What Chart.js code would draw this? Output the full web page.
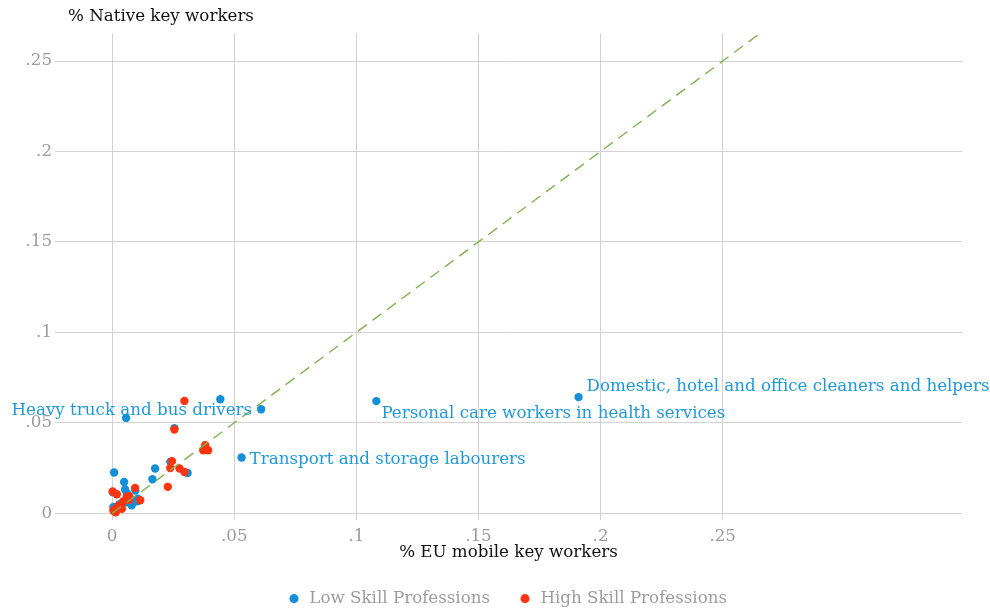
<!DOCTYPE html>
<html>
<head>
<meta charset="utf-8">
<script src="https://cdn.jsdelivr.net/npm/chart.js@4"></script>
<style>
html,body{margin:0;padding:0;background:#fff;}
canvas{display:block;}
</style>
</head>
<body>
<canvas id="c" width="990" height="612"></canvas>
<script>
// ---- data ----
const seriesNames = ['Low Skill Professions', 'High Skill Professions'];
const lowSkillX = [0.0443, 0.0610, 0.0057, 0.0530, 0.1082, 0.1910, 0.0255, 0.0238, 0.0176, 0.0165, 0.0309, 0.0008, 0.0049, 0.0053, 0.0003, 0.0080, 0.0080, 0.0005, 0.0010, 0.0030, 0.0015, 0.0060, 0.0105, 0.0061, 0.0095, 0.0102];
const lowSkillY = [0.0630, 0.0575, 0.0527, 0.0308, 0.0620, 0.0642, 0.0470, 0.0284, 0.0247, 0.0188, 0.0223, 0.0225, 0.0173, 0.0131, 0.0116, 0.0072, 0.0044, 0.0035, 0.0010, 0.0050, 0.0025, 0.0060, 0.0080, 0.0110, 0.0125, 0.0066];
const highSkillX = [0.0296, 0.0255, 0.0373, 0.0381, 0.0393, 0.0245, 0.0238, 0.0276, 0.0296, 0.0228, 0.0094, 0.0019, 0.0115, 0.0060, 0.0025, 0.0010, 0.0015, 0.0030, 0.0005, 0.0040, 0.0070, 0.0045, 0.0002, 0.0070];
const highSkillY = [0.0621, 0.0463, 0.0348, 0.0376, 0.0348, 0.0288, 0.0250, 0.0247, 0.0228, 0.0146, 0.0140, 0.0105, 0.0072, 0.0092, 0.0040, 0.0020, 0.0005, 0.0030, 0.0015, 0.0025, 0.0075, 0.0065, 0.0120, 0.0094];
const diagonalX = [0, 0.2655];
const xTickValues = [0, 0.05, 0.1, 0.15, 0.2, 0.25];
const xTickLabels = ['0', '.05', '.1', '.15', '.2', '.25'];
const yTickValues = [0, 0.05, 0.1, 0.15, 0.2, 0.25];
const yTickLabels = ['0', '.05', '.1', '.15', '.2', '.25'];
const labelTexts = ['Heavy truck and bus drivers', 'Transport and storage labourers', 'Personal care workers in health services', 'Domestic, hotel and office cleaners and helpers'];
const labelPointIndex = [1, 3, 4, 5]; // indices into low skill series
const xTitle = '% EU mobile key workers';
const yTitle = '% Native key workers';

// ---- style ----
const FONT = "'DejaVu Serif', serif";
const FS = 16.7;
const BLUE = '#1590d8';
const BLUE_TEXT = '#2298d8';
const RED = '#ff3410';
const GREEN = '#7cb450';
const GRID = '#d2d2d2';
const TICK = '#9c9c9c';
// clock positions of labels (Stata-style)
const labelPlacement = [
  {align: 'right', dx: -9, dy: 1},
  {align: 'left', dx: 8, dy: 2},
  {align: 'left', dx: 5, dy: 13},
  {align: 'left', dx: 8, dy: -10}
];

const toPts = (xs, ys) => xs.map((x, i) => ({x: x, y: ys[i]}));

const labelPlugin = {
  id: 'pointLabels',
  afterLayout(chart) {
    if (chart.legend) { chart.legend.left += 26; chart.legend.right += 26; }
  },
  afterDatasetsDraw(chart) {
    const ctx = chart.ctx;
    const xs = chart.scales.x, ys = chart.scales.y;
    ctx.save();
    ctx.font = FS + 'px ' + FONT;
    ctx.fillStyle = BLUE_TEXT;
    ctx.textBaseline = 'middle';
    labelTexts.forEach((t, k) => {
      const i = labelPointIndex[k];
      const px = xs.getPixelForValue(lowSkillX[i]);
      const py = ys.getPixelForValue(lowSkillY[i]);
      const p = labelPlacement[k];
      ctx.textAlign = p.align;
      ctx.fillText(t, px + p.dx, py + p.dy);
    });
    // y axis title at top-left
    ctx.fillStyle = '#111';
    ctx.textAlign = 'left';
    ctx.textBaseline = 'middle';
    ctx.fillText(yTitle, chart.chartArea.left + 13, 17);
    ctx.restore();
  }
};

new Chart(document.getElementById('c'), {
  type: 'scatter',
  data: {
    datasets: [
      {label: seriesNames[0], data: toPts(lowSkillX, lowSkillY), backgroundColor: BLUE, borderColor: BLUE, borderWidth: 0, pointRadius: 4.2, pointHoverRadius: 4.2, order: 2},
      {label: seriesNames[1], data: toPts(highSkillX, highSkillY), backgroundColor: RED, borderColor: RED, borderWidth: 0, pointRadius: 4.2, pointHoverRadius: 4.2, order: 1},
      {label: 'diag', type: 'line', data: toPts(diagonalX, diagonalX), borderColor: GREEN, borderWidth: 1.4, borderDash: [11, 7], pointRadius: 0, fill: false, order: 0}
    ]
  },
  options: {
    responsive: false,
    animation: false,
    devicePixelRatio: 1,
    layout: {padding: {top: 33, right: 28, left: 0, bottom: -5}},
    plugins: {
      tooltip: {enabled: false},
      legend: {
        position: 'bottom',
        labels: {
          usePointStyle: true,
          pointStyle: 'circle',
          boxWidth: 14, boxHeight: 6.4,
          padding: 28,
          color: TICK,
          font: {family: FONT, size: FS},
          filter: (item) => item.datasetIndex < 2,
          sort: (a, b) => a.datasetIndex - b.datasetIndex
        }
      }
    },
    scales: {
      x: {
        type: 'linear',
        min: -0.0234, max: 0.348,
        afterBuildTicks: (s) => { s.ticks = xTickValues.map(v => ({value: v})); },
        afterFit: (s) => { s.height = 42; },
        grid: {color: GRID, lineWidth: 1, drawTicks: false},
        border: {display: false},
        ticks: {color: TICK, font: {family: FONT, size: FS}, padding: 6, maxRotation: 0,
          callback: (v) => { const i = xTickValues.indexOf(v); return i >= 0 ? xTickLabels[i] : ''; }},
        title: {display: true, text: xTitle, color: '#111', font: {family: FONT, size: FS}, padding: {top: 0, bottom: 0}}
      },
      y: {
        type: 'linear',
        min: -0.0039, max: 0.2655,
        afterBuildTicks: (s) => { s.ticks = yTickValues.map(v => ({value: v})); },
        afterFit: (s) => { s.width = 55; },
        grid: {color: GRID, lineWidth: 1, drawTicks: false},
        border: {display: false},
        ticks: {color: TICK, font: {family: FONT, size: FS}, padding: 3,
          callback: (v) => { const i = yTickValues.indexOf(v); return i >= 0 ? yTickLabels[i] : ''; }}
      }
    }
  },
  plugins: [labelPlugin]
});
</script>
</body>
</html>
